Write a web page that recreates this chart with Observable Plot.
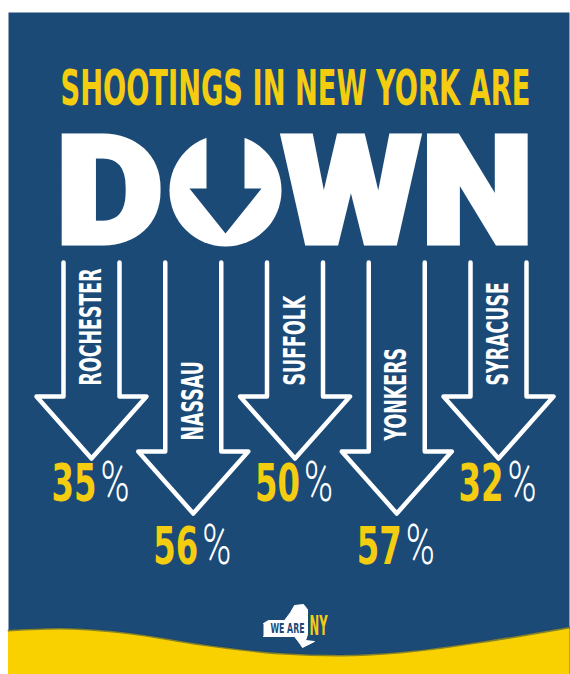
<!DOCTYPE html>
<html><head><meta charset="utf-8">
<script src="https://cdn.jsdelivr.net/npm/d3@7"></script>
<script src="https://cdn.jsdelivr.net/npm/@observablehq/plot@0.6"></script>
<style>html,body{margin:0;padding:0;background:#fff;} svg{display:block;}</style>
</head><body><div id="chart"></div>
<script>
// ---- data ----
const headline = "SHOOTINGS IN NEW YORK ARE";
const headlineWord = ["D", "WN"];
const cities = ["ROCHESTER", "NASSAU", "SUFFOLK", "YONKERS", "SYRACUSE"];
const declines = [35, 56, 50, 57, 32];
const brand = ["WE ARE", "NY"];

// ---- layout / style ----
const W = 570, H = 674;
const BLUE = "#1b4a77", YELLOW = "#f4cd10", WAVE = "#f9d000", WHITE = "#ffffff";
const COND = "'Liberation Sans Narrow','DejaVu Sans Condensed','Arial Narrow',sans-serif";
const HEAVY = "Roboto, Lato, Inter, 'DejaVu Sans', sans-serif";
const LIGHT = "Roboto, Lato, 'Open Sans', sans-serif";

const xc = Plot.scale({x: {type: "point", domain: cities, range: [91, 498], padding: 0}});
const rows = cities.map((city, i) => {
  const long = i % 2 === 1;
  const cx = xc.apply(city);
  const shoulder = long ? 451 : 396;
  return {city, value: declines[i], cx, shoulder, tip: shoulder + 62, base: long ? 563 : 500};
});
const SHAFT = 28, HEAD = 55, TOP = 262;
const arrowPts = rows.flatMap(r =>
  [[-SHAFT, TOP], [-SHAFT, r.shoulder], [-HEAD, r.shoulder], [0, r.tip], [HEAD, r.shoulder], [SHAFT, r.shoulder], [SHAFT, TOP]]
    .map(([dx, y]) => ({city: r.city, x: r.cx + dx, y})));

// "O" of DOWN : disc with arrow cut
const O = {x: 225, y: 190, r: 56};
const oArrow = [[-19, O.y - 66], [-19, O.y - 2], [-36, O.y - 2], [0, O.y + 43], [36, O.y - 2], [19, O.y - 2], [19, O.y - 66]]
  .map(([dx, y]) => ({x: O.x + dx, y}));

// wave band
const wave = [[8, 630], [60, 628], [130, 633], [200, 644], [280, 653], [340, 655], [400, 652], [485, 641], [569, 627]]
  .map(([x, y]) => ({x, y}));

// logo silhouette (relative to logo centre)
const LOGO = {x: 292, y: 625};
const nyShape = [[-29, -2], [-24, -5], [-8, -5], [-2, -13], [2, -20], [11, -21], [15, -16], [15, -3], [15, 9], [13, 15], [22, 16], [10, 22], [8, 19], [5, 15], [2, 11], [-29, 11]]
  .map(([dx, dy]) => ({x: LOGO.x + dx, y: LOGO.y + dy}));

const chart = Plot.plot({
  width: W, height: H,
  marginLeft: 8, marginRight: 1, marginTop: 12, marginBottom: 0,
  x: {domain: [0, W], range: [0, W], axis: null},
  y: {domain: [0, H], range: [0, H], axis: null},
  style: {background: "transparent"},
  marks: [
    Plot.frame({fill: BLUE, stroke: "none"}),
    Plot.areaY(wave, {x: "x", y1: "y", y2: H, fill: WAVE, curve: "monotone-x"}),
    Plot.line(wave, {x: "x", y: "y", stroke: "#0d3459", strokeWidth: 2, strokeOpacity: 0.5, curve: "monotone-x"}),
    // headline
    Plot.text([headline], {x: 60, y: 104, text: d => d, textAnchor: "start", lineAnchor: "bottom",
      fill: YELLOW, fontFamily: COND, fontWeight: "bold", fontSize: 50}),
    Plot.text([headlineWord[0]], {x: 55, y: 242, text: d => d, textAnchor: "start", lineAnchor: "bottom",
      fill: WHITE, stroke: WHITE, strokeWidth: 5, strokeLinejoin: "miter", fontFamily: HEAVY, fontWeight: 900, fontSize: 150}),
    Plot.dot([O], {x: "x", y: "y", r: O.r, fill: WHITE, stroke: "none"}),
    Plot.line(oArrow, {x: "x", y: "y", fill: BLUE, stroke: "none"}),
    Plot.text([headlineWord[1]], {x: 281, y: 242, text: d => d, textAnchor: "start", lineAnchor: "bottom",
      fill: WHITE, stroke: WHITE, strokeWidth: 5, strokeLinejoin: "miter", fontFamily: HEAVY, fontWeight: 900, fontSize: 150}),
    // arrows
    Plot.line(arrowPts, {x: "x", y: "y", z: "city", stroke: WHITE, strokeWidth: 4.5,
      strokeLinejoin: "round", strokeLinecap: "round"}),
    Plot.text(rows, {x: "cx", y: d => d.shoulder - 11, text: "city", rotate: -90, textAnchor: "start",
      fill: WHITE, fontFamily: COND, fontWeight: "bold", fontSize: 30}),
    Plot.text(rows, {x: d => d.cx + 5, y: "base", text: d => String(d.value), textAnchor: "end", lineAnchor: "bottom",
      fill: YELLOW, fontFamily: COND, fontWeight: "bold", fontSize: 52}),
    Plot.text(rows, {x: d => d.cx + 9, y: "base", text: () => "%", textAnchor: "start", lineAnchor: "bottom",
      fill: WHITE, fontFamily: LIGHT, fontWeight: 300, fontSize: 55}),
    // logo
    Plot.line(nyShape, {x: "x", y: "y", fill: WHITE, stroke: WHITE, strokeWidth: 1, strokeLinejoin: "round"}),
    Plot.text([brand[0]], {x: LOGO.x - 22, y: LOGO.y + 7, text: d => d, textAnchor: "start", lineAnchor: "bottom",
      fill: BLUE, fontFamily: COND, fontWeight: "bold", fontSize: 14}),
    Plot.text([brand[1]], {x: LOGO.x + 17, y: LOGO.y + 9, text: d => d, textAnchor: "start", lineAnchor: "bottom",
      fill: YELLOW, fontFamily: COND, fontWeight: "bold", fontSize: 26})
  ]
});
document.getElementById("chart").append(chart);

// condense texts horizontally (text-mark groups in mark order)
const textGroups = [...chart.querySelectorAll("g")].filter(g => g.querySelector(":scope > text"));
const fits = [
  {fn: () => 470},               // headline
  {fn: () => 108},               // D
  {fn: () => 252},               // WN
  {fn: L => L * 0.645, len: true}, // rotated city labels
  {fn: () => 45},                // values
  {fn: () => 29},                // %
  {fn: () => 34},                // WE ARE
  {fn: () => 18}                 // NY
];
textGroups.forEach((g, gi) => {
  const f = fits[gi];
  if (!f) return;
  g.querySelectorAll(":scope > text").forEach(t => {
    const L = t.getComputedTextLength();
    const target = f.fn(L);
    if (f.len) {
      t.setAttribute("textLength", target);
      t.setAttribute("lengthAdjust", "spacingAndGlyphs");
      return;
    }
    const sx = target / L;
    let tr = t.getAttribute("transform") || "";
    const x = t.getAttribute("x"), y = t.getAttribute("y");
    if (x != null || y != null) {
      tr = `translate(${+x || 0},${+y || 0}) ` + tr;
      t.removeAttribute("x");
      t.removeAttribute("y");
    }
    t.setAttribute("transform", `${tr} scale(${sx},1)`.trim());
  });
});
</script></body></html>
